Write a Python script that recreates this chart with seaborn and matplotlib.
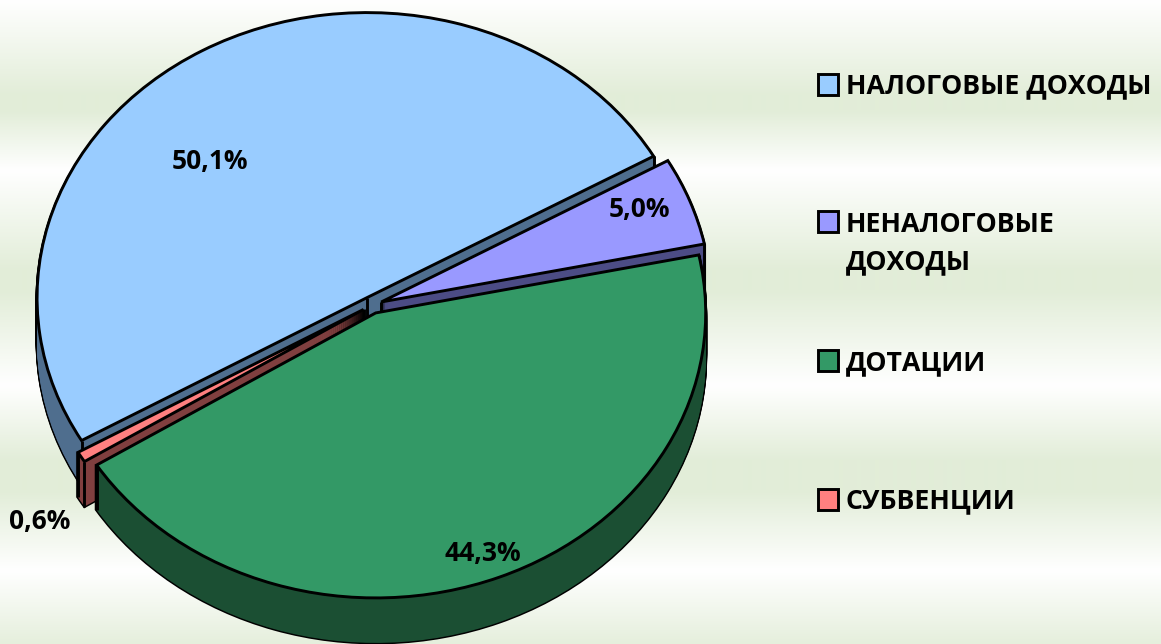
import numpy as np
import matplotlib
matplotlib.use('Agg')
import matplotlib.pyplot as plt
from matplotlib.patches import Rectangle
import seaborn as sns

categories = ['НАЛОГОВЫЕ ДОХОДЫ', 'НЕНАЛОГОВЫЕ\nДОХОДЫ', 'ДОТАЦИИ', 'СУБВЕНЦИИ']
values = [50.1, 5.0, 44.3, 0.6]

top_colors = ['#99CCFF', '#9999FF', '#339966', '#FF8080']
wall_colors = ['#4F6E8E', '#4C4C85', '#1B4F33', '#803F3F']
paint_rank = [0, 1, 3, 2]  # back slices first, green goes over the others

W, H = 1161, 644
CX, CY, RX, RY = 372, 305, 330, 285
DEPTH = 45
EDGE = 2.1


def px(x, y):
    return (x - CX) / RX, (CY - y) / RY


sns.set_theme(style='white')
plt.rcParams['font.family'] = ['Open Sans', 'DejaVu Sans']
plt.rcParams['font.weight'] = 'bold'

fig = plt.figure(figsize=(W / 100, H / 100), dpi=100)
ax = fig.add_axes([0, 0, 1, 1])


def draw_pie(dy, colors, edge, lw, z):
    wedges, _ = ax.pie(values, colors=colors, explode=[0.03] * 4, startangle=210.1,
                       counterclock=False, center=(0, -dy / RY), radius=1,
                       wedgeprops=dict(edgecolor=edge, linewidth=lw), frame=False)
    for w, r in zip(wedges, paint_rank):
        w.set_zorder(10 * (r + 1) + z)
    return wedges


# depth of the pie: black stack gives the outline, coloured stack goes over it
for dy in range(DEPTH, 0, -1):
    draw_pie(dy, ['black'] * 4, 'black', EDGE, 0)
for dy in range(DEPTH, 0, -1):
    draw_pie(dy, wall_colors, 'none', 0, 1)

top = draw_pie(0, top_colors, 'black', EDGE, 4)

# vertical corner lines on the walls
for w in top:
    cx, cy = w.center
    xs = [cx, cx + np.cos(np.radians(w.theta1)), cx + np.cos(np.radians(w.theta2))]
    ys = [cy, cy + np.sin(np.radians(w.theta1)), cy + np.sin(np.radians(w.theta2))]
    for x, y in zip(xs, ys):
        ax.plot([x, x], [y, y - DEPTH / RY], color='black', lw=EDGE,
                zorder=w.get_zorder() - 1, solid_capstyle='butt')

# percentage labels
label_pos = [(210, 161), (639, 209), (483, 553), (40, 521)]
for v, (x, y) in zip(values, label_pos):
    ax.text(*px(x, y), f'{v:.1f}%'.replace('.', ','), ha='center', va='center',
            fontsize=19, fontweight='bold', color='black', zorder=100)

# legend
box_y = [84.5, 221.5, 360, 499]
text_y = [85, 223, 362, 500]
for name, col, by, ty in zip(categories, top_colors, box_y, text_y):
    x0, y0 = px(818, by + 10.5)
    x1, y1 = px(838, by - 10.5)
    ax.add_patch(Rectangle((x0, y0), x1 - x0, y1 - y0, facecolor=col, edgecolor='black',
                           linewidth=EDGE, zorder=100))
    ax.text(*px(845.5, ty - 11.5), name, ha='left', va='top', fontsize=19.3, fontweight='bold',
            color='black', linespacing=1.58, zorder=100)

# background bands
band_y = [0, 95, 110, 170, 270, 290, 385, 460, 490, 570, 644]
band_mix = [0, 1, 1, 0, 1, 1, 0, 1, 1, 0, 0.9]
rows = np.arange(H)
mix = np.interp(rows, band_y, band_mix)[:, None, None]
white = np.array([1, 1, 1.0])[None, None, :]
green = np.array([0xE2, 0xED, 0xD8])[None, None, :] / 255
left, bottom = px(0, H)
right, upper = px(W, 0)
ax.imshow(white * (1 - mix) + green * mix, extent=(left, right, bottom, upper),
          aspect='auto', zorder=0, interpolation='bilinear')

ax.set_aspect('auto')
ax.set_xlim(left, right)
ax.set_ylim(bottom, upper)
ax.axis('off')

fig.savefig('out.png', dpi=100)
